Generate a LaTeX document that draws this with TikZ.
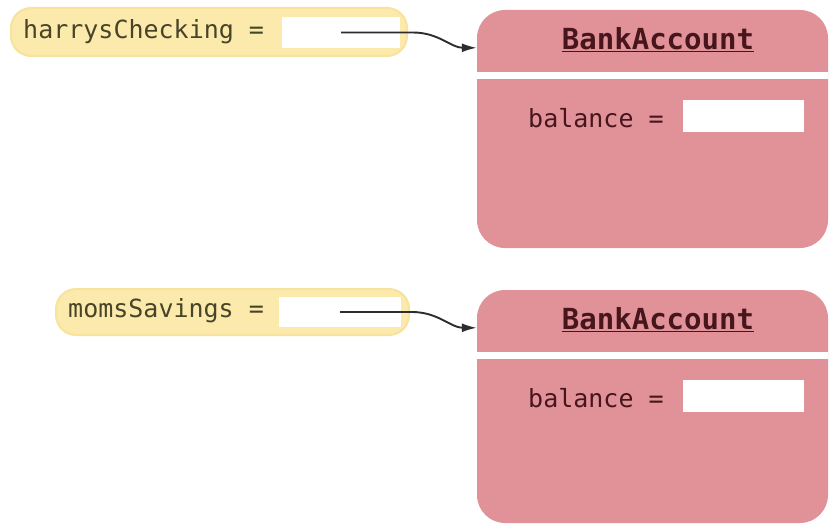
\documentclass[tikz,border=0pt]{standalone}
\usepackage{fontspec}
\setmonofont{DejaVu Sans Mono}
\usepackage{tikz}
\usetikzlibrary{arrows.meta,calc,positioning}
\definecolor{objpink}{RGB}{225,146,153}
\definecolor{varyellow}{RGB}{252,234,172}
\definecolor{varedge}{RGB}{247,226,158}
\definecolor{vartext}{RGB}{72,68,40}
\definecolor{objtext}{RGB}{70,22,28}
\definecolor{refline}{RGB}{45,45,48}
\tikzset{
  pill/.style={rectangle,rounded corners=20pt,fill=varyellow,draw=varedge,line width=2pt,inner sep=0pt},
  obj/.style={rectangle,rounded corners=28pt,fill=objpink,inner sep=0pt,
    minimum width=351pt},
  slot/.style={rectangle,fill=white,inner sep=0pt},
  varname/.style={inner sep=0pt,text=vartext,font=\ttfamily\fontsize{25}{25}\selectfont},
  fieldname/.style={inner sep=0pt,text=objtext,font=\ttfamily\fontsize{25}{25}\selectfont},
  classname/.style={inner sep=0pt,text=objtext,font=\ttfamily\bfseries\fontsize{29}{29}\selectfont},
  sepline/.style={white,line width=7pt},
  ref/.style={-{Latex[length=15pt,width=9pt]},refline,line width=1.9pt}
}

\begin{document}
\begin{tikzpicture}[x=1pt,y=-1pt]
\useasboundingbox (0,0) rectangle (830,524);

% objects
\node[obj, minimum height=238pt] (acct1) at (652.5,129) {};
\node[obj, minimum height=233pt] (acct2) at (652.5,406.5) {};
\draw[sepline] ([yshift=-66pt]acct1.north west) -- ([yshift=-66pt]acct1.north east);
\draw[sepline] ([yshift=-66pt]acct2.north west) -- ([yshift=-66pt]acct2.north east);
\node[classname] (cls1) at (658,40) {\underline{BankAccount}};
\node[classname] (cls2) at (658,320) {\underline{BankAccount}};
\node[fieldname, anchor=west] (bal1) at (528,118) {balance =};
\node[fieldname, anchor=west] (bal2) at (528,398) {balance =};
\node[slot, minimum width=121pt, minimum height=32pt] (val1) at (743.5,116) {};
\node[slot, minimum width=121pt, minimum height=32pt] (val2) at (743.5,396) {};

% variables
\node[pill, minimum width=396pt, minimum height=48pt] (hcvar) at (209,32) {};
\node[pill, minimum width=353pt, minimum height=46pt] (msvar) at (232.5,312) {};
\node[varname, anchor=west] (hcname) at (23,32) {harrysChecking =};
\node[varname, anchor=west] (msname) at (68,311) {momsSavings =};
\node[slot, minimum width=118pt, minimum height=31pt] (hcref) at (341,32.5) {};
\node[slot, minimum width=122pt, minimum height=30pt] (msref) at (340,312) {};

% references
\coordinate (hctip) at ([yshift=-38pt]acct1.north west);
\coordinate (mstip) at ([yshift=-38pt]acct2.north west);
\draw[ref] (hcref.center) -- ++(72,0) to[out=0,in=180] (hctip);
\draw[ref] (msref.center) -- ++(72,0) to[out=0,in=180] (mstip);
\end{tikzpicture}
\end{document}
